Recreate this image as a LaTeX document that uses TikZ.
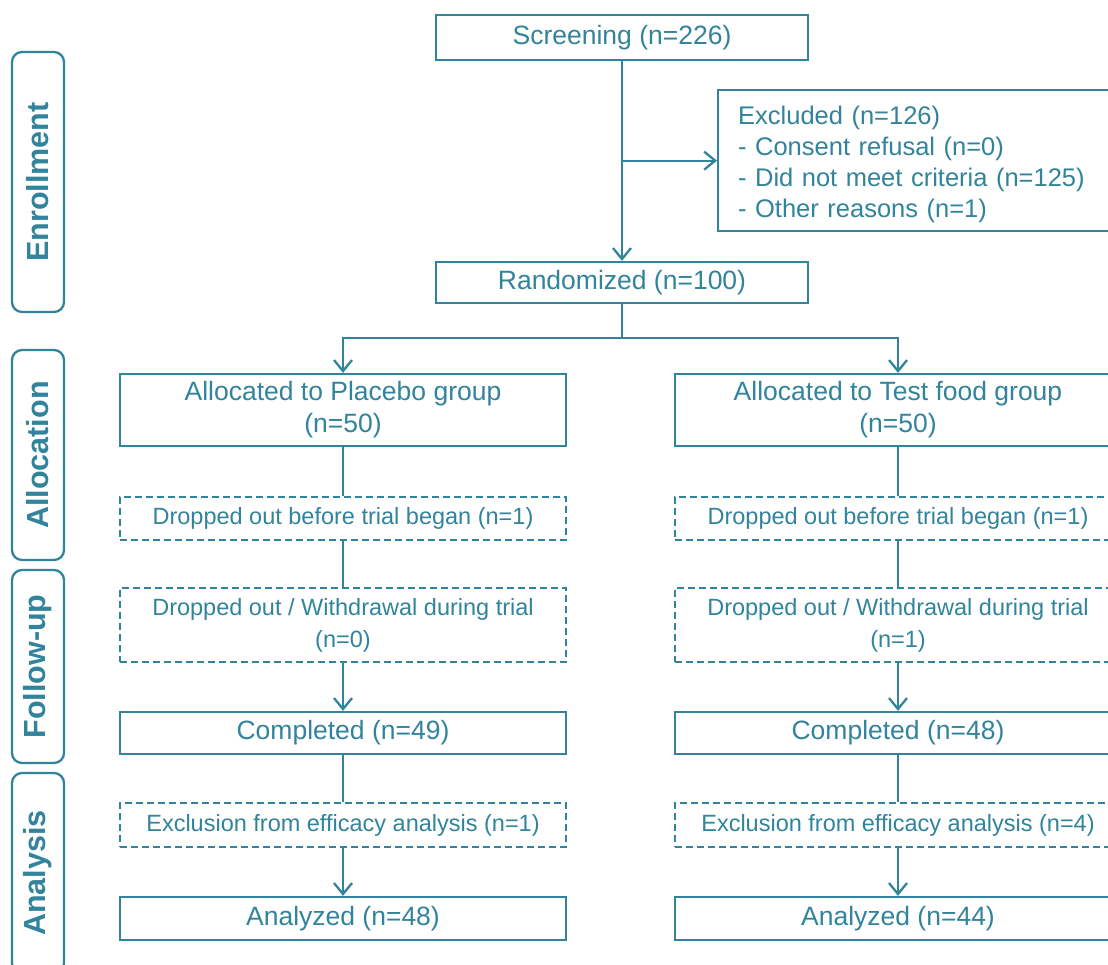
\documentclass[tikz,border=0pt]{standalone}
\usepackage{fontspec}
\setmainfont{Liberation Sans}
\usetikzlibrary{arrows.meta}
\definecolor{teal1}{RGB}{49,132,155}
\begin{document}
\begin{tikzpicture}[x=1pt,y=-1pt,
  box/.style={draw=teal1, line width=2.3pt, text=teal1, font=\fontsize{26.5}{32}\selectfont, align=center, inner sep=0pt},
  dbox/.style={box, dash pattern=on 7pt off 4pt, line width=1.8pt, font=\fontsize{23.5}{32}\selectfont},
  side/.style={draw=teal1, line width=2.3pt, rounded corners=10pt, text=teal1, font=\fontsize{30.5}{30}\selectfont\bfseries, minimum height=52pt, inner sep=0pt, rotate=90},
  conn/.style={draw=teal1, line width=2.3pt},
  arr/.style={conn, -{Straight Barb[length=11pt,width=18pt]}},
]
\useasboundingbox (0,0) rectangle (1108,964);
\clip (0,0) rectangle (1108,964);
\fill[white] (0,0) rectangle (1108,964);

% side labels
\node[side, minimum width=260pt] (enr) at (38,182) {Enrollment};
\node[side, minimum width=210pt] (alo) at (38,455) {Allocation};
\node[side, minimum width=193pt] (fol) at (38,666.5) {Follow-up};
\node[side, minimum width=200pt] (ana) at (38,873) {Analysis};

% boxes
\node[box, minimum width=372pt, minimum height=45pt] (scr) at (622,37.5) {Screening (n=226)};
\node[box, anchor=north west, text width=370pt, inner xsep=20pt, minimum height=141pt, align=left, font=\fontsize{25.5}{31}\selectfont] (exc) at (717,89)
  {\rule{0pt}{26pt}Excluded (n=126)\\- Consent refusal (n=0)\\- Did not meet criteria (n=125)\\- Other reasons (n=1)};
\node[box, minimum width=372pt, minimum height=41pt] (ran) at (622,282.5) {Randomized (n=100)};

\node[box, minimum width=446pt, minimum height=72pt] (pa) at (343,410) {Allocated to Placebo group\\(n=50)};
\node[box, minimum width=446pt, minimum height=72pt] (ta) at (898,410) {Allocated to Test food group\\(n=50)};

\node[dbox, minimum width=446pt, minimum height=43pt] (pd1) at (343,518.5) {Dropped out before trial began (n=1)};
\node[dbox, minimum width=446pt, minimum height=43pt] (td1) at (898,518.5) {Dropped out before trial began (n=1)};

\node[dbox, minimum width=446pt, minimum height=74pt] (pd2) at (343,625) {Dropped out / Withdrawal during trial\\(n=0)};
\node[dbox, minimum width=446pt, minimum height=74pt] (td2) at (898,625) {Dropped out / Withdrawal during trial\\(n=1)};

\node[box, minimum width=446pt, minimum height=42pt] (pc) at (343,733) {Completed (n=49)};
\node[box, minimum width=446pt, minimum height=42pt] (tc) at (898,733) {Completed (n=48)};

\node[dbox, minimum width=446pt, minimum height=44pt] (pe) at (343,825) {Exclusion from efficacy analysis (n=1)};
\node[dbox, minimum width=446pt, minimum height=44pt] (te) at (898,825) {Exclusion from efficacy analysis (n=4)};

\node[box, minimum width=446pt, minimum height=43pt] (pn) at (343,918.5) {Analyzed (n=48)};
\node[box, minimum width=446pt, minimum height=43pt] (tn) at (898,918.5) {Analyzed (n=44)};

% connectors
\draw[arr] (scr.south) -- (ran.north);
\draw[arr] (scr.south |- exc.west) -- (exc.west);
\coordinate (split) at (622,338);
\draw[conn] (ran.south) -- (split);
\draw[arr] (split) -| (pa.north);
\draw[arr] (split) -| (ta.north);

\draw[conn] (pa.south) -- (pd1.north);
\draw[conn] (pd1.south) -- (pd2.north);
\draw[arr] (pd2.south) -- (pc.north);
\draw[conn] (pc.south) -- (pe.north);
\draw[arr] (pe.south) -- (pn.north);

\draw[conn] (ta.south) -- (td1.north);
\draw[conn] (td1.south) -- (td2.north);
\draw[arr] (td2.south) -- (tc.north);
\draw[conn] (tc.south) -- (te.north);
\draw[arr] (te.south) -- (tn.north);
\end{tikzpicture}
\end{document}
